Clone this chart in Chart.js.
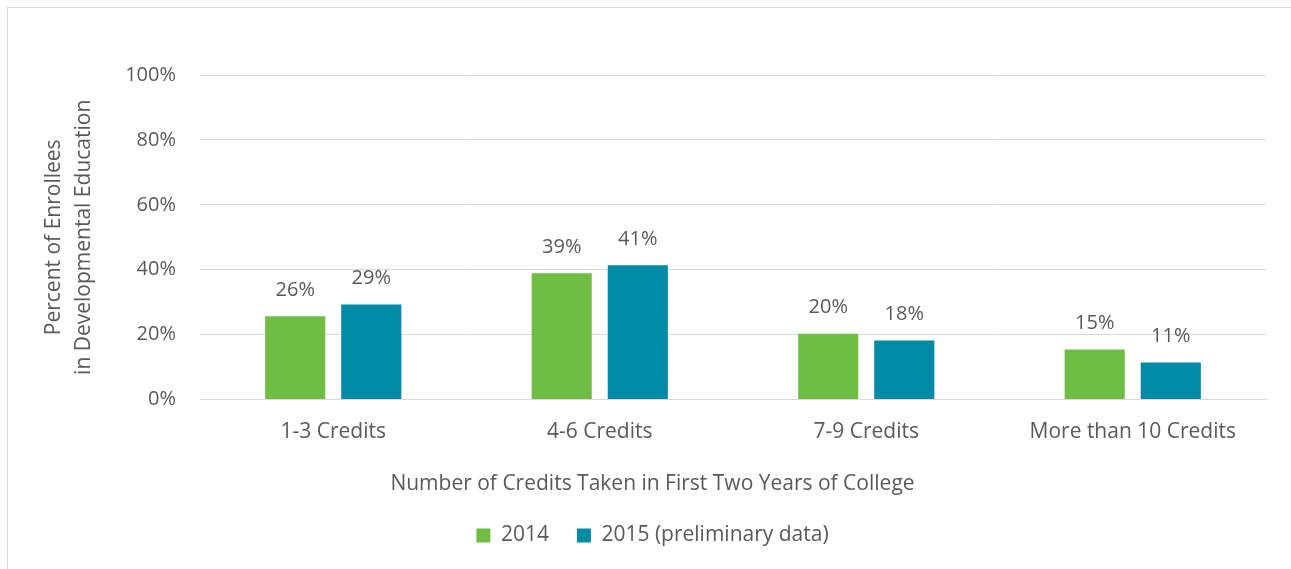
<!DOCTYPE html>
<html>
<head>
<meta charset="utf-8">
<script src="https://cdn.jsdelivr.net/npm/chart.js@4"></script>
<style>
	body { margin: 0; background: #fff; }
	#wrap { position: relative; width: 1291px; height: 569px; overflow: hidden; }
	#frame { position: absolute; left: 7px; top: 7px; width: 1300px; height: 600px; border: 1px solid #d9d9d9; box-sizing: border-box; }
	canvas { position: absolute; left: 0; top: 0; }
</style>
</head>
<body>
<div id="wrap">
	<div id="frame"></div>
	<!-- canvas is a bit wider than the window so titles centre on the whole frame -->
	<canvas id="chart" width="1308" height="569"></canvas>
</div>
<script>
const categories = [`1-3 Credits`, `4-6 Credits`, `7-9 Credits`, `More than 10 Credits`];
const values2014 = [25.7, 38.9, 20.3, 15.4];
const values2015 = [29.3, 41.4, 18.2, 11.4];
const seriesNames = [`2014`, `2015 (preliminary data)`];
const yTicks = [0, 20, 40, 60, 80, 100];

const textColor = `#595959`;
const fontFamily = `"Open Sans", sans-serif`;

// draws the rounded percent above each bar
const barLabels = {
	id: `barLabels`,
	afterDatasetsDraw(chart) {
		const { ctx } = chart;
		ctx.save();
		ctx.fillStyle = textColor;
		ctx.font = `20px ${fontFamily}`;
		ctx.textAlign = `center`;
		ctx.textBaseline = `middle`;
		chart.data.datasets.forEach((ds, i) => {
			const meta = chart.getDatasetMeta(i);
			meta.data.forEach((bar, j) => {
				ctx.fillText(`${Math.round(ds.data[j])}%`, bar.x, bar.y - 26);
			});
		});
		ctx.restore();
	},
};

new Chart(document.getElementById(`chart`), {
	type: `bar`,
	data: {
		labels: categories,
		datasets: [
			{
				label: seriesNames[0],
				data: values2014,
				backgroundColor: `#70bd44`,
			},
			{
				label: seriesNames[1],
				data: values2015,
				backgroundColor: `#008aa6`,
			},
		],
	},
	options: {
		responsive: false,
		animation: false,
		categoryPercentage: 0.571,
		barPercentage: 0.79,
		layout: {
			padding: { left: 39, right: 42, top: 75, bottom: 13 },
		},
		scales: {
			x: {
				grid: { display: false },
				border: { color: `#d9d9d9`, width: 1 },
				ticks: {
					color: textColor,
					font: { family: fontFamily, size: 21 },
					padding: 12,
				},
			},
			y: {
				min: 0,
				max: 100,
				afterBuildTicks(axis) {
					axis.ticks = yTicks.map(v => ({ value: v }));
				},
				afterFit(axis) {
					axis.width = 161;
				},
				grid: { color: `#d9d9d9`, lineWidth: 1, drawTicks: false },
				border: { display: false },
				ticks: {
					color: textColor,
					font: { family: fontFamily, size: 20 },
					padding: 24,
					callback: v => `${v}%`,
				},
				title: {
					display: true,
					text: [`Percent of Enrollees`, `in Developmental Education`],
					color: textColor,
					font: { family: fontFamily, size: 21, lineHeight: 1.43 },
					padding: 0,
				},
			},
		},
		plugins: {
			title: {
				display: true,
				position: `bottom`,
				weight: 500,
				text: `Number of Credits Taken in First Two Years of College`,
				color: textColor,
				font: { family: fontFamily, size: 21, weight: `normal` },
				padding: { top: 15, bottom: 0 },
			},
			legend: {
				position: `bottom`,
				labels: {
					color: textColor,
					font: { family: fontFamily, size: 21 },
					boxWidth: 14,
					boxHeight: 14,
					padding: 28,
				},
			},
			tooltip: { enabled: false },
		},
	},
	plugins: [barLabels],
});
</script>
</body>
</html>
